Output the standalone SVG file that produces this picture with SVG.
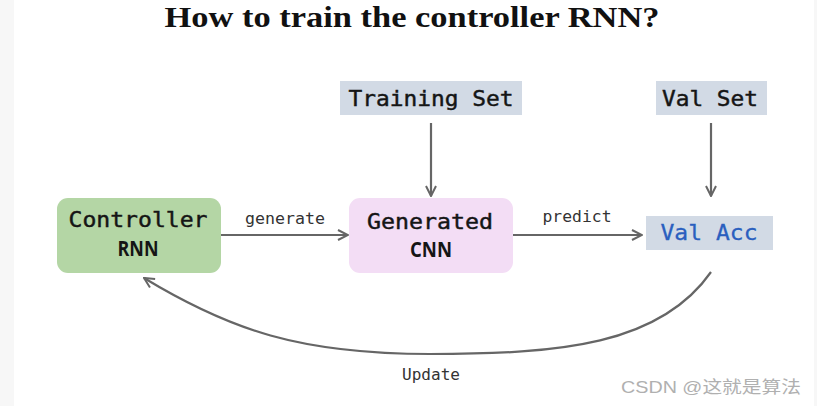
<svg xmlns="http://www.w3.org/2000/svg" width="817" height="406" viewBox="0 0 817 406">
<style>
.mono{font-family:"DejaVu Sans Mono","Liberation Mono",monospace;fill:#151515}
.big{font-size:22px;stroke:#151515;stroke-width:0.45px}
.lbl{font-size:15px;fill:#333}
.sans{font-family:"Open Sans","DejaVu Sans",sans-serif;font-weight:bold;font-size:21px;fill:#151515}
.conn{stroke:#666;stroke-width:2.2;fill:none}
.tag{fill:#d2dae5}
</style>
<defs>
<marker id="ah" viewBox="0 0 12 12" refX="11" refY="6" markerWidth="12" markerHeight="12" markerUnits="userSpaceOnUse" orient="auto">
<path d="M1,1 L11,6 L1,11" fill="none" stroke="#666" stroke-width="2"/>
</marker>
</defs>
<rect x="0" y="0" width="817" height="406" fill="#fff"/>
<rect x="0" y="0" width="14" height="406" fill="#f7f7f7"/>
<rect x="814" y="0" width="3" height="406" fill="#f7f7f7"/>
<text x="412" y="27" text-anchor="middle" font-family="'Liberation Serif','DejaVu Serif',serif" font-weight="bold" font-size="30" fill="#111" textLength="495" lengthAdjust="spacingAndGlyphs">How to train the controller RNN?</text>

<g id="connectors">
<line class="conn" x1="221" y1="235" x2="348" y2="235" marker-end="url(#ah)"/>
<line class="conn" x1="513" y1="235" x2="642" y2="235" marker-end="url(#ah)"/>
<line class="conn" x1="431" y1="123" x2="431" y2="196" marker-end="url(#ah)"/>
<line class="conn" x1="711" y1="123" x2="711" y2="196" marker-end="url(#ah)"/>
<path class="conn" d="M711,272 C660,345 560,354 430,354 C300,354 230,330 144,278" marker-end="url(#ah)"/>
<text class="mono lbl" x="285" y="224" text-anchor="middle" textLength="80" lengthAdjust="spacingAndGlyphs">generate</text>
<text class="mono lbl" x="577" y="222" text-anchor="middle" textLength="69" lengthAdjust="spacingAndGlyphs">predict</text>
<text class="mono lbl" x="431" y="380" text-anchor="middle" textLength="58" lengthAdjust="spacingAndGlyphs">Update</text>
</g>

<g id="controller">
<rect x="57" y="198" width="164" height="75" rx="11" fill="#b4d6a5"/>
<text class="mono big" x="138" y="227" text-anchor="middle" textLength="139" lengthAdjust="spacingAndGlyphs">Controller</text>
<text class="sans" x="138" y="256" text-anchor="middle" textLength="41" lengthAdjust="spacingAndGlyphs">RNN</text>
</g>

<g id="generated">
<rect x="349" y="198" width="164" height="75" rx="11" fill="#f3ddf5"/>
<text class="mono big" x="430" y="229" text-anchor="middle" textLength="126" lengthAdjust="spacingAndGlyphs">Generated</text>
<text class="sans" x="431" y="257" text-anchor="middle" textLength="42" lengthAdjust="spacingAndGlyphs">CNN</text>
</g>

<g id="training-set">
<rect class="tag" x="340" y="81" width="182" height="34"/>
<text class="mono big" x="431" y="106" text-anchor="middle" textLength="165" lengthAdjust="spacingAndGlyphs">Training Set</text>
</g>

<g id="val-set">
<rect class="tag" x="656" y="81" width="111" height="34"/>
<text class="mono big" x="710" y="106" text-anchor="middle" textLength="96" lengthAdjust="spacingAndGlyphs">Val Set</text>
</g>

<g id="val-acc">
<rect class="tag" x="646" y="216" width="127" height="34"/>
<text class="mono big" x="709" y="240" text-anchor="middle" textLength="97" lengthAdjust="spacingAndGlyphs" style="fill:#2a5fbf;stroke:#2a5fbf;stroke-width:0.3px">Val Acc</text>
</g>

<text x="621" y="393" font-family="'Liberation Sans','Noto Sans CJK SC',sans-serif" font-size="17" fill="#b0b0b0" textLength="180" lengthAdjust="spacingAndGlyphs">CSDN @这就是算法</text>
</svg>
